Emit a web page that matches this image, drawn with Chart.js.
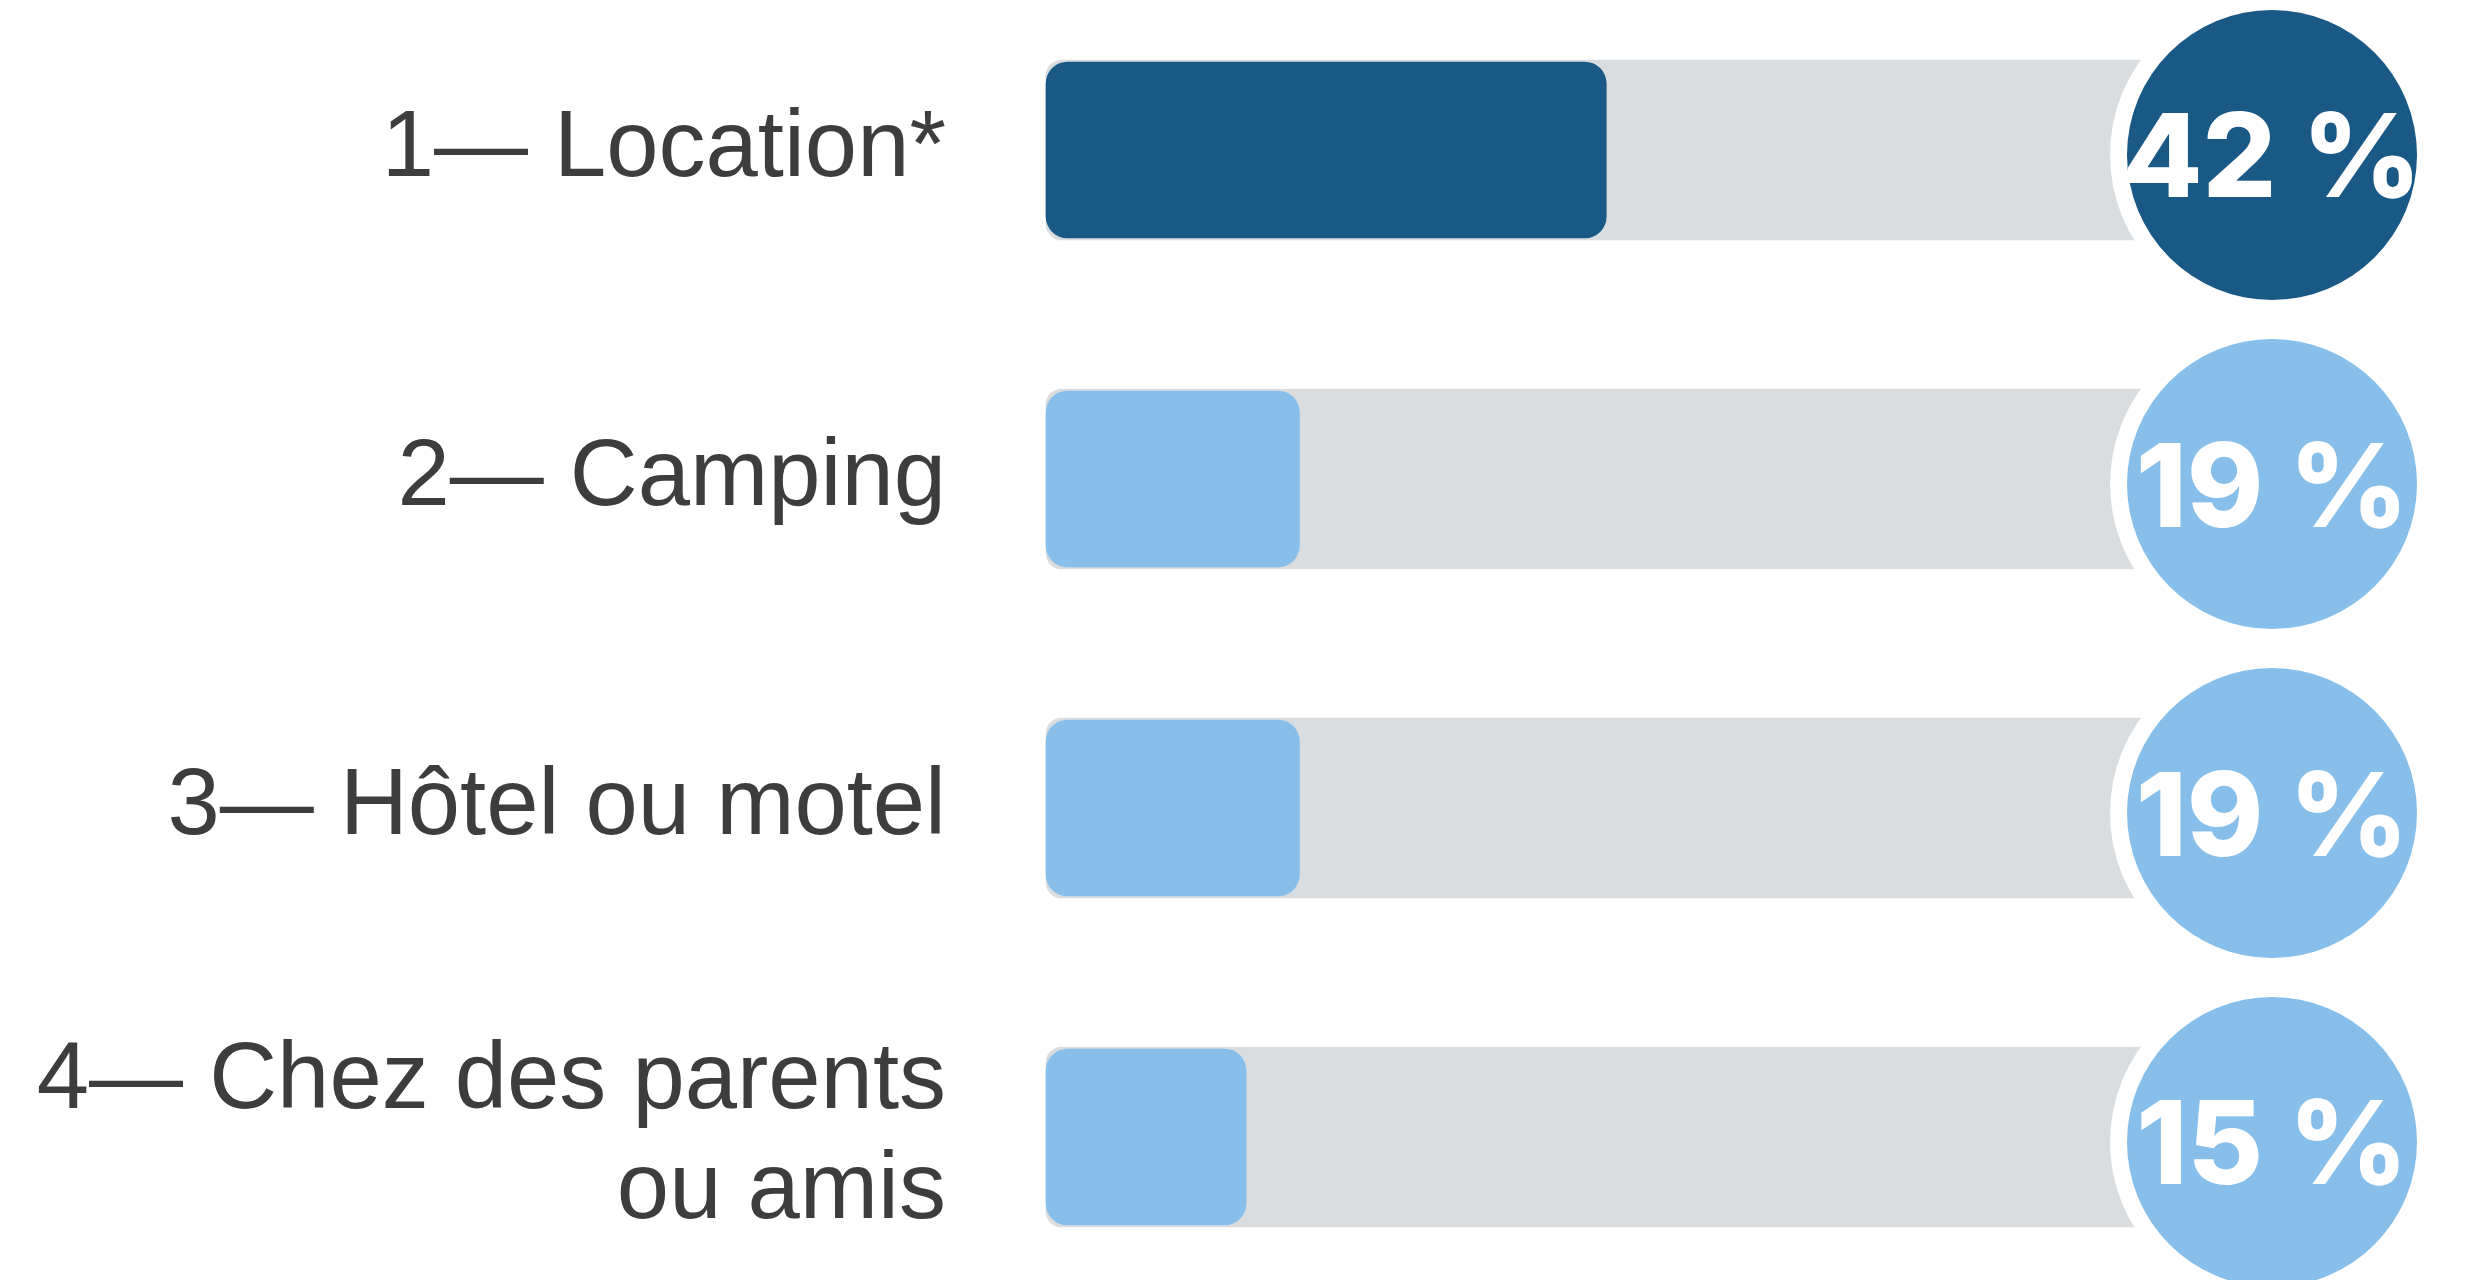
<!DOCTYPE html>
<html>
<head>
<meta charset="utf-8">
<script src="https://cdn.jsdelivr.net/npm/chart.js@4/dist/chart.umd.min.js"></script>
<style>
  html, body { margin: 0; padding: 0; background: #fff; }
  #wrap { width: 2469px; height: 1280px; }
</style>
</head>
<body>
<div id="wrap"><canvas id="hebergement"></canvas></div>
<script>
// données
const categories = [
  "1— Location*",
  "2— Camping",
  "3— Hôtel ou motel",
  ["4— Chez des parents", "ou amis"],
];
const percents = [42, 19, 19, 15];
const fullTrack = [100, 100, 100, 100]; // fond gris = 100 %

const barColors = ["#1A5886", "#88BFEA", "#88BFEA", "#88BFEA"];
const trackColor = "#D9DDE0";

// pastilles rondes avec le pourcentage, à droite de chaque barre
const bubbles = {
  id: "bubbles",
  afterDatasetsDraw(chart) {
    const ctx = chart.ctx;
    const yScale = chart.scales.y;
    const cx = chart.chartArea.right - 108;
    const ys = percents.map((v, i) => yScale.getPixelForValue(i) + 5);
    ctx.save();
    // anneaux blancs d'abord
    ys.forEach((cy) => {
      ctx.beginPath();
      ctx.arc(cx, cy, 162, 0, Math.PI * 2);
      ctx.fillStyle = "#fff";
      ctx.fill();
    });
    percents.forEach((v, i) => {
      const cy = ys[i];
      ctx.beginPath();
      ctx.arc(cx, cy, 145, 0, Math.PI * 2);
      ctx.fillStyle = barColors[i];
      ctx.fill();
      ctx.font = "800 116px Inter, 'Open Sans', sans-serif";
      ctx.fillStyle = "#fff";
      ctx.textAlign = "center";
      ctx.textBaseline = "alphabetic";
      const txt = v + " %";
      const m = ctx.measureText(txt);
      ctx.fillText(txt, cx, cy + m.actualBoundingBoxAscent / 2 - 1);
    });
    ctx.restore();
  },
};

new Chart(document.getElementById("hebergement"), {
  type: "bar",
  data: {
    labels: categories,
    datasets: [
      {
        label: "Pourcentage",
        data: percents,
        backgroundColor: barColors,
        barThickness: 176,
        borderRadius: 22,
        borderSkipped: false,
        grouped: false,
        order: 0,
        clip: false,
      },
      {
        label: "Fond",
        data: fullTrack,
        backgroundColor: trackColor,
        barThickness: 180,
        borderRadius: 16,
        borderSkipped: false,
        grouped: false,
        order: 1,
        clip: false,
      },
    ],
  },
  options: {
    indexAxis: "y",
    responsive: true,
    maintainAspectRatio: false,
    animation: false,
    layout: {
      padding: { top: 150, bottom: 143, left: 0, right: 89 },
    },
    plugins: {
      legend: { display: false },
      tooltip: { enabled: false },
    },
    scales: {
      x: {
        display: false,
        min: 0,
        max: 100,
      },
      y: {
        offset: false,
        grid: { display: false, drawTicks: false },
        border: { display: false },
        afterFit(scale) {
          scale.width = 1046; // début des barres
          scale.paddingTop = 0;
          scale.paddingBottom = 0;
        },
        ticks: {
          padding: 100,
          color: "#3d3d3d",
          font: {
            family: "'Liberation Sans', Arial, sans-serif",
            size: 94,
            lineHeight: 1.17,
          },
        },
      },
    },
  },
  plugins: [bubbles],
});
</script>
</body>
</html>
